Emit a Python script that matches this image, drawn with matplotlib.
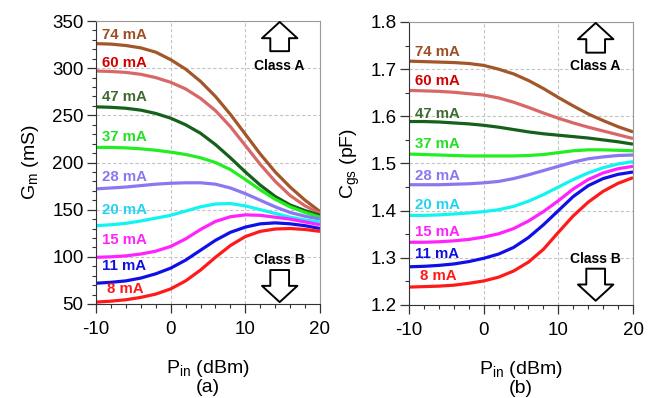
import numpy as np
import matplotlib
matplotlib.use("Agg")
import matplotlib.pyplot as plt
from matplotlib.ticker import MultipleLocator, FormatStrFormatter

plt.rcParams['font.family'] = ['Liberation Sans', 'DejaVu Sans']
plt.rcParams['mathtext.fontset'] = 'custom'
plt.rcParams['mathtext.rm'] = 'Liberation Sans'
plt.rcParams['axes.unicode_minus'] = False

# input power, dBm
pin = [-10, -8, -6, -4, -2, 0, 2, 4, 6, 8, 10, 12, 14, 16, 18, 20]
currents = ["74 mA", "60 mA", "47 mA", "37 mA", "28 mA", "20 mA", "15 mA", "11 mA", "8 mA"]

# Gm (mS) per bias current
gm_74 = [326, 325.5, 324, 321.5, 317, 309, 299, 286, 270, 251, 230, 209, 190, 174, 160, 148]
gm_60 = [297, 296.5, 295.5, 293.5, 290, 285, 278, 268, 255, 238, 218, 198, 180, 165, 154, 146]
gm_47 = [259, 258.5, 257.5, 255.5, 252, 247, 240, 231, 219, 205, 190, 176, 164, 155, 149, 144]
gm_37 = [216, 216, 215.5, 214.5, 213, 211, 208.5, 205, 200, 192.5, 182, 171, 161, 153, 147, 142]
gm_28 = [172, 173, 174, 175.5, 177, 178, 178.5, 178.5, 177, 173, 167, 160, 153, 147, 143, 140]
gm_20 = [133, 134, 135.5, 138, 141, 144, 148.5, 153, 156, 156.5, 154, 150, 146, 142, 139, 137]
gm_15 = [99.5, 100, 101, 103, 106, 111, 119, 129, 137.5, 142.5, 144.5, 144, 142, 140, 137, 134]
gm_11 = [72, 73, 74.5, 77.5, 82, 88, 96.5, 107, 117.5, 126, 131.5, 135, 136, 135, 133, 130]
gm_8 = [52, 53, 54.5, 57, 60.5, 66, 74.5, 86, 99.5, 112, 121.5, 127, 129.5, 130, 129, 127]

# Cgs (pF) per bias current
cgs_74 = [1.717, 1.716, 1.715, 1.714, 1.712, 1.708, 1.700, 1.690, 1.676, 1.659, 1.640, 1.622, 1.605, 1.591, 1.578, 1.567]
cgs_60 = [1.655, 1.654, 1.653, 1.651, 1.648, 1.645, 1.639, 1.630, 1.619, 1.607, 1.596, 1.586, 1.577, 1.569, 1.561, 1.553]
cgs_47 = [1.589, 1.589, 1.588, 1.586, 1.584, 1.581, 1.577, 1.572, 1.567, 1.563, 1.560, 1.557, 1.554, 1.550, 1.546, 1.541]
cgs_37 = [1.520, 1.519, 1.518, 1.517, 1.516, 1.516, 1.516, 1.516, 1.517, 1.519, 1.523, 1.527, 1.529, 1.529, 1.528, 1.527]
cgs_28 = [1.455, 1.455, 1.455, 1.456, 1.457, 1.459, 1.462, 1.468, 1.476, 1.485, 1.494, 1.503, 1.510, 1.514, 1.517, 1.518]
cgs_20 = [1.390, 1.390, 1.391, 1.393, 1.395, 1.398, 1.402, 1.409, 1.420, 1.434, 1.450, 1.466, 1.480, 1.491, 1.499, 1.504]
cgs_15 = [1.333, 1.333, 1.334, 1.336, 1.339, 1.344, 1.351, 1.362, 1.378, 1.398, 1.421, 1.446, 1.466, 1.480, 1.489, 1.494]
cgs_11 = [1.281, 1.282, 1.284, 1.287, 1.292, 1.299, 1.308, 1.322, 1.343, 1.370, 1.400, 1.430, 1.453, 1.468, 1.477, 1.482]
cgs_8 = [1.238, 1.239, 1.240, 1.242, 1.246, 1.251, 1.259, 1.272, 1.291, 1.318, 1.354, 1.389, 1.418, 1.441, 1.458, 1.470]

gm_all = [gm_74, gm_60, gm_47, gm_37, gm_28, gm_20, gm_15, gm_11, gm_8]
cgs_all = [cgs_74, cgs_60, cgs_47, cgs_37, cgs_28, cgs_20, cgs_15, cgs_11, cgs_8]

# label anchor values (y) for the current labels
gm_lab_y = [335, 305, 269, 227, 185, 150, 118, 90, 66]
cgs_lab_y = [1.736, 1.675, 1.604, 1.541, 1.474, 1.412, 1.355, 1.308, 1.261]

line_cols = ["#a3562a", "#d86868", "#15601a", "#22ee22", "#8a78f2", "#11f4f4", "#ff22ff", "#1010e6", "#ff1a1a"]
text_cols = ["#9c4f22", "#d40000", "#3f6a30", "#22e022", "#8a78f2", "#22d4f0", "#ff22ff", "#1010dd", "#ff1a1a"]

fig = plt.figure(figsize=(6.59, 3.98), dpi=100)
ax1 = fig.add_axes([96/659, 94/398, 224/659, 283/398])
ax2 = fig.add_axes([409/659, 93/398, 224/659, 283/398])


def style(ax, ylim, ymaj, ymin):
    ax.set_xlim(-10, 20)
    ax.set_ylim(*ylim)
    ax.xaxis.set_major_locator(MultipleLocator(10))
    ax.xaxis.set_minor_locator(MultipleLocator(2))
    ax.yaxis.set_major_locator(MultipleLocator(ymaj))
    ax.yaxis.set_minor_locator(MultipleLocator(ymin))
    ax.grid(True, which='major', color='#c4c4c4', ls=(0, (3, 2)), lw=0.8)
    ax.tick_params(which='major', direction='out', length=6.5, width=0.9, labelsize=13.5,
                   color='#333333')
    ax.tick_params(which='minor', direction='out', length=3.2, width=0.8, color='#333333')
    ax.tick_params(axis='x', which='major', pad=6)
    ax.tick_params(axis='y', which='major', pad=2.5)
    for s in ['top', 'right']:
        ax.spines[s].set_color('#999999')
    for s in ['left', 'bottom']:
        ax.spines[s].set_color('#333333')
    ax.set_axisbelow(True)


def class_marks(ax, xa, ya_tail, ya_head, ya_txt, yb_txt, yb_tail, yb_head):
    arr = dict(arrowstyle="simple,head_length=0.78,head_width=1.7,tail_width=0.9",
               fc='white', ec='black', lw=1.4, mutation_scale=15, shrinkA=0, shrinkB=0)
    ax.annotate("", xy=(xa, ya_head), xytext=(xa, ya_tail), arrowprops=arr)
    ax.annotate("", xy=(xa, yb_head), xytext=(xa, yb_tail), arrowprops=arr)
    ax.text(xa, ya_txt, "Class A", ha='center', va='center', fontsize=10, fontweight='bold')
    ax.text(xa, yb_txt, "Class B", ha='center', va='center', fontsize=10, fontweight='bold')


style(ax1, (50, 350), 50, 10)
for vals, c in zip(gm_all, line_cols):
    ax1.plot(pin, vals, color=c, lw=2.3, solid_capstyle='butt')
for i, (lab, y) in enumerate(zip(currents, gm_lab_y)):
    x0 = -8.5 if lab == "8 mA" else -9.2
    ax1.text(x0, y, lab, color=text_cols[i], fontsize=10.8, fontweight='bold', va='center', ha='left')
class_marks(ax1, 14.6, 318, 349, 302, 97, 86, 52)
ax1.set_ylabel("G$_\\mathrm{m}$ (mS)", fontsize=14, labelpad=8)
ax1.set_xlabel("P$_\\mathrm{in}$ (dBm)\n(a)", fontsize=14, labelpad=14, linespacing=1.0)

style(ax2, (1.2, 1.8), 0.1, 0.05)
ax2.yaxis.set_major_formatter(FormatStrFormatter('%.1f'))
for vals, c in zip(cgs_all, line_cols):
    ax2.plot(pin, vals, color=c, lw=2.3, solid_capstyle='butt')
for i, (lab, y) in enumerate(zip(currents, cgs_lab_y)):
    x0 = -8.5 if lab == "8 mA" else -9.2
    ax2.text(x0, y, lab, color=text_cols[i], fontsize=10.8, fontweight='bold', va='center', ha='left')
class_marks(ax2, 15.0, 1.735, 1.798, 1.707, 1.297, 1.277, 1.209)
ax2.set_ylabel("C$_\\mathrm{gs}$ (pF)", fontsize=14, labelpad=6)
ax2.set_xlabel("P$_\\mathrm{in}$ (dBm)\n(b)", fontsize=14, labelpad=14, linespacing=1.0)

fig.savefig("out.png", dpi=100)
